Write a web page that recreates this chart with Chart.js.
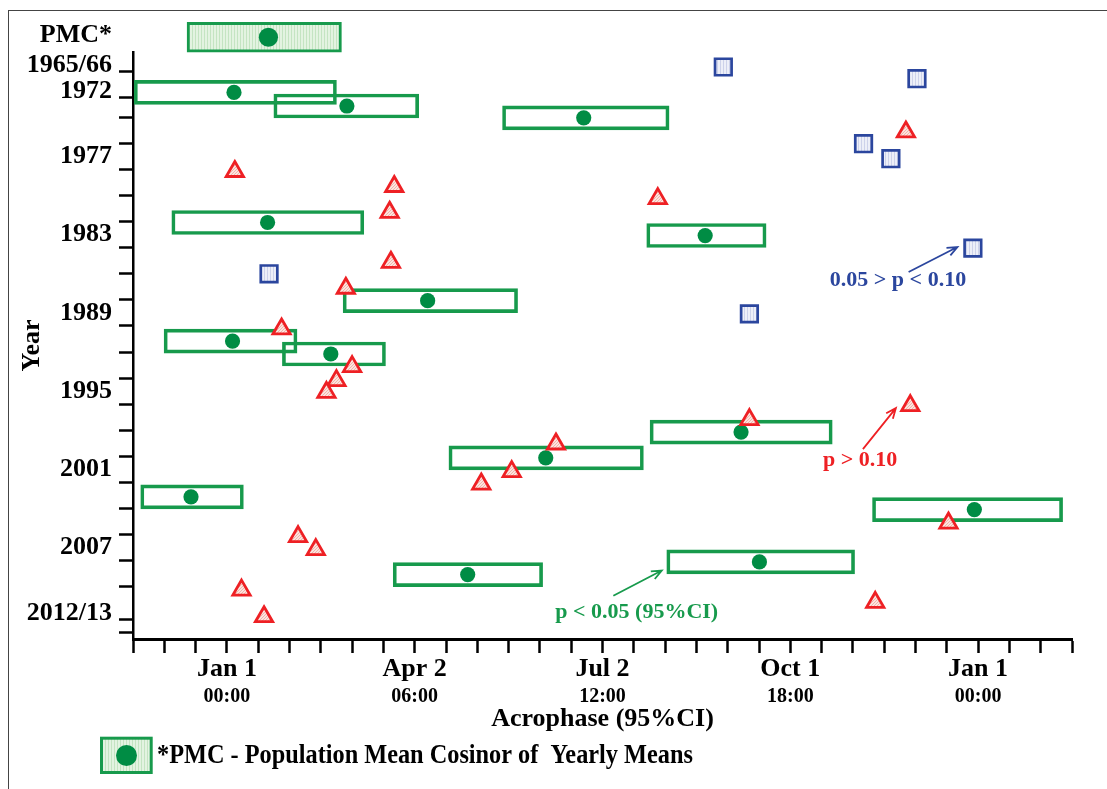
<!DOCTYPE html>
<html>
<head>
<meta charset="utf-8">
<script src="https://cdn.jsdelivr.net/npm/chart.js@4.4.1/dist/chart.umd.min.js"></script>
<style>
body{margin:0;background:#fff;}
#wrap{position:relative;width:1107px;height:789px;overflow:hidden;}
#frame{position:absolute;left:8px;top:10px;right:-4px;bottom:-4px;border-left:1.5px solid #444;border-top:1.5px solid #444;}
canvas{position:absolute;left:0;top:0;}
</style>
</head>
<body>
<div id="wrap"><div id="frame"></div><canvas id="chart" width="1107" height="789"></canvas></div>
<script>
// acrophase in degrees: 0 = Jan 1 / 00:00, 360 = next Jan 1 ; rows in year units
const pmcRow=1967.87, pmcLo=-19.1, pmcHi=54.9, pmcPhase=19.9;

// p < 0.05 : 95% CI box + acrophase
const sigRows =[1972.10,1973.14,1974.05,1982.07,1983.07,1988.06,1991.16,1992.15,1998.14,2000.11,2003.10,2004.08,2008.09,2009.06];
const sigLo   =[-44.4,22.5,132.1,-26.4,201.2,55.7,-30.1,26.6,202.8,106.4,-41.3,309.4,210.8,79.7];
const sigHi   =[52.5,91.9,211.9,65.6,258.4,139.3,33.6,76.0,290.1,199.6,7.9,400.5,300.8,151.3];
const sigPhase=[3.4,57.5,171.0,19.5,229.2,96.2,2.7,49.8,246.4,152.8,-17.2,358.2,255.2,115.4];

// 0.05 > p < 0.10
const trendRows =[1970.15,1971.05,1976.03,1977.18,1984.03,1986.00,1989.07];
const trendPhase=[237.9,330.7,305.1,318.2,357.5,20.2,250.4];

// p > 0.10
const nsRows =[1975.13,1978.16,1979.31,1980.24,1981.29,1985.12,1987.11,1990.23,1993.12,1994.19,1995.09,1996.11,1997.18,1999.05,2001.17,2002.12,2005.11,2006.15,2007.15,2010.25,2011.19,2012.29];
const nsPhase=[325.4,3.8,80.2,206.5,78.0,78.6,57.0,26.2,60.0,52.5,47.7,327.5,250.4,157.7,136.5,121.9,345.8,34.1,42.6,7.0,310.7,17.8];

// axis labels
const xDateTicks=[0,90,180,270,360];
const xDateLabels=['Jan 1','Apr 2','Jul 2','Oct 1','Jan 1'];
const xTimeLabels=['00:00','06:00','12:00','18:00','00:00'];
const yLabelPos=[1967.75,1970,1972,1977,1983,1989,1995,2001,2007,2012];
const yLabels=['PMC*','1965/66','1972','1977','1983','1989','1995','2001','2007','2012/13'];

// annotations (data coordinates)
const noteText=['0.05 > p < 0.10','p > 0.10','p < 0.05 (95%CI)'];
const noteAt=[[321.6,1986.52],[303.5,2000.32],[196.4,2011.94]];
const arrowFrom=[[326.7,1985.87],[304.8,1999.44],[185.2,2010.69]];
const arrowTo=[[350.1,1983.95],[320.6,1996.30],[208.4,2008.75]];

const legendText='*PMC - Population Mean Cosinor of  Yearly Means';

const SERIF="'Liberation Serif','Times New Roman',serif";
const GREEN='#179a4c', DOT='#008c44', RED='#ee2024', BLUE='#2b469e';
const noteColor=[BLUE,RED,GREEN];

const canvas=document.getElementById('chart');
const ctx=canvas.getContext('2d');

function pattern(w,h,bg,fg,paint){
  const c=document.createElement('canvas');
  c.width=w;c.height=h;
  const g=c.getContext('2d');
  g.fillStyle=bg;g.fillRect(0,0,w,h);
  g.fillStyle=fg;paint(g);
  return ctx.createPattern(c,'repeat');
}
const pmcFill=pattern(3,1,'#e3f3e1','#c4e4c2',g=>g.fillRect(0,0,1,1));
const triFill=pattern(3,3,'#fbe4df','#f2b3a9',g=>{g.fillRect(0,0,1,1);g.fillRect(1,2,1,1);g.fillRect(2,1,1,1);});
const sqFill=pattern(3,1,'#edeff8','#cdd2ea',g=>g.fillRect(0,0,1,1));

// label-only y ticks (no tick mark)
const yOnlyLabel=v=>v%2===0||yLabelPos.indexOf(v)>=0&&v%1!==0;

const notes={
  id:'notes',
  afterDatasetsDraw(chart){
    const c=chart.ctx, xs=chart.scales.x, ys=chart.scales.y;
    c.save();
    // PMC acrophase sits above the year axis, outside the area points are drawn in
    c.fillStyle=DOT;c.beginPath();
    c.arc(xs.getPixelForValue(pmcPhase),ys.getPixelForValue(pmcRow),9.6,0,Math.PI*2);c.fill();
    noteText.forEach((t,i)=>{
      c.strokeStyle=noteColor[i];c.fillStyle=noteColor[i];c.lineWidth=1.8;
      const x1=xs.getPixelForValue(arrowFrom[i][0]), y1=ys.getPixelForValue(arrowFrom[i][1]);
      const x2=xs.getPixelForValue(arrowTo[i][0]), y2=ys.getPixelForValue(arrowTo[i][1]);
      const a=Math.atan2(y2-y1,x2-x1), L=11;
      c.beginPath();c.moveTo(x1,y1);c.lineTo(x2,y2);
      c.moveTo(x2-L*Math.cos(a-0.4),y2-L*Math.sin(a-0.4));c.lineTo(x2,y2);
      c.lineTo(x2-L*Math.cos(a+0.4),y2-L*Math.sin(a+0.4));
      c.stroke();
      c.font='bold 22px '+SERIF;c.textAlign='center';c.textBaseline='middle';
      c.fillText(t,xs.getPixelForValue(noteAt[i][0]),ys.getPixelForValue(noteAt[i][1]));
    });
    c.restore();
  },
  afterDraw(chart){
    const c=chart.ctx;
    c.save();
    c.fillStyle=pmcFill;c.fillRect(101.5,738.2,49.7,34.3);
    c.strokeStyle=GREEN;c.lineWidth=3;c.strokeRect(101.5,738.2,49.7,34.3);
    c.fillStyle=DOT;c.beginPath();c.arc(126.5,755.5,10.5,0,Math.PI*2);c.fill();
    c.fillStyle='#000';c.font='bold 27px '+SERIF;c.textBaseline='middle';c.textAlign='left';
    c.translate(157,756);c.scale(0.9,1);c.fillText(legendText,0,0);
    c.restore();
  }
};

const boldFont=size=>({family:SERIF,size:size,weight:'bold'});

new Chart(ctx,{
  type:'scatter',
  data:{
    datasets:[
      {type:'bar',indexAxis:'y',order:5,grouped:false,clip:false,
       data:[{x:[pmcLo,pmcHi],y:pmcRow}],
       backgroundColor:pmcFill,borderColor:GREEN,borderWidth:3,borderSkipped:false,barThickness:30},
      {type:'bar',indexAxis:'y',order:5,grouped:false,
       data:sigRows.map((r,i)=>({x:[sigLo[i],sigHi[i]],y:r})),
       backgroundColor:'rgba(0,0,0,0)',borderColor:GREEN,borderWidth:3,borderSkipped:false,barThickness:24},
      {order:3,data:sigRows.map((r,i)=>({x:sigPhase[i],y:r})),
       pointStyle:'circle',pointRadius:7.6,backgroundColor:DOT,borderWidth:0},
      {order:2,data:trendRows.map((r,i)=>({x:trendPhase[i],y:r})),
       pointStyle:'rect',pointRadius:11.7,backgroundColor:sqFill,borderColor:BLUE,borderWidth:2.7},
      {order:1,data:nsRows.map((r,i)=>({x:nsPhase[i],y:r})),
       pointStyle:'triangle',pointRadius:10,backgroundColor:triFill,borderColor:RED,borderWidth:2.8}
    ]
  },
  options:{
    responsive:false,
    animation:false,
    events:[],
    layout:{padding:{top:52,left:0,right:35,bottom:54}},
    plugins:{legend:{display:false},tooltip:{enabled:false}},
    scales:{
      x:{type:'linear',min:-45,max:405,offset:false,
        afterBuildTicks(s){const t=[];for(let v=-45;v<=405;v+=15)t.push({value:v});s.ticks=t;},
        afterFit(s){s.height=44;},
        ticks:{autoSkip:false,maxRotation:0,minRotation:0,padding:1,color:'#000',font:boldFont(26),
          callback:v=>{const i=xDateTicks.indexOf(v);return i<0?'':xDateLabels[i];}},
        grid:{drawOnChartArea:false,tickLength:14,tickWidth:2.5,tickColor:'#000'},
        border:{color:'#000',width:3}
      },
      x2:{type:'linear',position:'bottom',min:-45,max:405,offset:false,
        afterBuildTicks(s){s.ticks=xDateTicks.map(v=>({value:v}));},
        afterFit(s){s.height=52;},
        ticks:{autoSkip:false,maxRotation:0,minRotation:0,padding:2,color:'#000',font:boldFont(20),
          callback:v=>{const i=xDateTicks.indexOf(v);return i<0?'':xTimeLabels[i];}},
        grid:{display:false,drawTicks:false},
        border:{display:false},
        title:{display:true,text:'Acrophase (95%CI)',color:'#000',font:boldFont(26),padding:{top:0,bottom:0}}
      },
      y:{type:'linear',reverse:true,min:1969,max:2014,offset:false,
        afterBuildTicks(s){
          const t=[];
          for(let v=1969;v<=2013;v+=2)t.push(v);
          yLabelPos.forEach(v=>{if(t.indexOf(v)<0)t.push(v);});
          t.sort((a,b)=>a-b);
          s.ticks=t.map(v=>({value:v}));
        },
        afterFit(s){s.width=133;},
        ticks:{autoSkip:false,padding:7,color:'#000',font:boldFont(26),
          callback:v=>{const i=yLabelPos.indexOf(v);return i<0?'':yLabels[i];}},
        grid:{drawOnChartArea:false,tickLength:14,tickWidth:2.5,
          tickColor:c=>(c.tick&&yOnlyLabel(c.tick.value))?'rgba(0,0,0,0)':'#000'},
        border:{color:'#000',width:2.5},
        title:{display:true,text:'Year',color:'#000',font:boldFont(26),padding:{top:17}}
      }
    }
  },
  plugins:[notes]
});
</script>
</body>
</html>
